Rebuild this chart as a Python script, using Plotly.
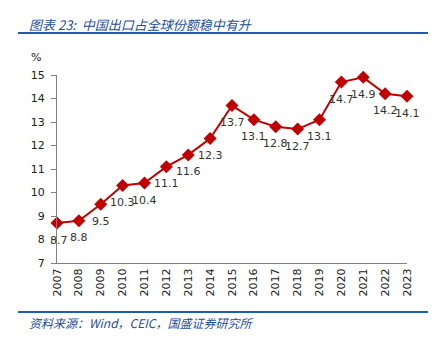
import plotly.graph_objects as go

years = [2007, 2008, 2009, 2010, 2011, 2012, 2013, 2014, 2015, 2016, 2017, 2018, 2019, 2020, 2021, 2022, 2023]
share = [8.7, 8.8, 9.5, 10.3, 10.4, 11.1, 11.6, 12.3, 13.7, 13.1, 12.8, 12.7, 13.1, 14.7, 14.9, 14.2, 14.1]
labels = [f"{v:.1f}" for v in share]
yticks = list(range(7, 16))

W, H = 444, 339
L, R, T, B = 57, 37, 75, 76
pw, ph = W - L - R, H - T - B

def px(x):
    return (x - L) / pw

def py(y):
    return (H - B - y) / ph

fig = go.Figure()
fig.add_trace(go.Scatter(
    x=years, y=share, mode="lines+markers",
    line=dict(color="#C00000", width=2),
    marker=dict(symbol="diamond", size=10, color="#C00000"),
    cliponaxis=False, showlegend=False,
))

annotations = [
    dict(x=x, y=y, text=t, xref="x", yref="y", showarrow=False, xanchor="center",
         yanchor="middle", yshift=-17, xshift=(2 if i == 0 else 0),
         font=dict(family="DejaVu Sans, Verdana, sans-serif", size=11, color="#333333"))
    for i, (x, y, t) in enumerate(zip(years, share, labels))
]

annotations += [
    dict(text="<i>图表 23:  中国出口占全球份额稳中有升</i>", xref="paper", yref="paper",
         x=px(27), y=py(24), xanchor="left", yanchor="middle", showarrow=False,
         font=dict(family="Noto Sans CJK SC", size=13, color="#1F4E9A")),
    dict(text="%", xref="paper", yref="paper", x=px(36), y=py(57), xanchor="center", yanchor="middle",
         showarrow=False, font=dict(size=11, color="#222222")),
    dict(text="<i>资料来源：Wind，CEIC，国盛证券研究所</i>", xref="paper", yref="paper",
         x=px(27), y=py(322), xanchor="left", yanchor="middle", showarrow=False,
         font=dict(family="Noto Sans CJK SC", size=12, color="#1F4E9A")),
]

fig.update_layout(
    width=W, height=H,
    margin=dict(l=L, r=R, t=T, b=B),
    paper_bgcolor="white", plot_bgcolor="white",
    font=dict(family="DejaVu Sans, Verdana, sans-serif", size=11, color="#333333"),
    xaxis=dict(
        range=[2007, 2023], tickmode="array", tickvals=years,
        ticktext=[str(y) for y in years], tickangle=-90,
        showgrid=False, zeroline=False, showline=True, linecolor="#808080", linewidth=1,
        ticks="", tickfont=dict(size=11, color="#222222"),
    ),
    yaxis=dict(
        range=[7, 15], tickvals=yticks, showgrid=False, zeroline=False,
        showline=True, linecolor="#808080", linewidth=1,
        ticks="outside", ticklen=5, tickcolor="#808080", ticklabelstandoff=4,
        tickfont=dict(size=11, color="#222222"),
    ),
    shapes=[
        dict(type="line", xref="paper", yref="paper", x0=px(18), x1=px(428), y0=py(33), y1=py(33),
             line=dict(color="#1F5BB0", width=2)),
        dict(type="line", xref="paper", yref="paper", x0=px(18), x1=px(428), y0=py(312), y1=py(312),
             line=dict(color="#1F5BB0", width=2)),
    ],
    annotations=annotations,
)

fig.write_html("out.html")
